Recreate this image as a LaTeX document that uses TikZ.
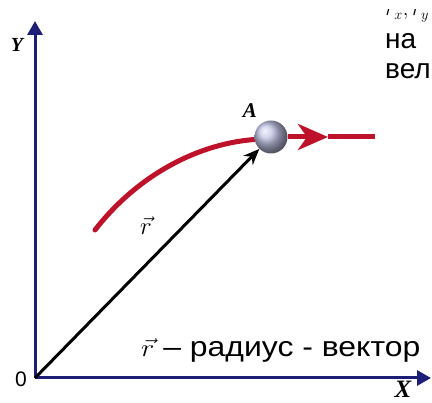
\documentclass[tikz,border=0pt]{standalone}
\usepackage{fontspec}
\setmainfont{Liberation Serif}
\setsansfont{Liberation Sans}
\usetikzlibrary{arrows.meta}
\definecolor{axiscol}{RGB}{28,30,120}
\definecolor{pathcol}{RGB}{190,18,42}
\definecolor{ballcol}{RGB}{192,195,228}

\begin{document}
\begin{tikzpicture}[x=1pt,y=-1pt,
	axis/.style={line width=3pt, color=axiscol, -{Triangle[length=14pt,width=15pt]}},
	pathline/.style={line width=5pt, color=pathcol},
	radvec/.style={line width=3pt, -{Stealth[length=16pt,width=13pt]}},
	axlabel/.style={font=\bfseries\itshape\fontsize{20}{20}\selectfont},
	sftext/.style={font=\sffamily\fontsize{28}{28}\selectfont, anchor=base west, inner sep=0pt}]
	% frame of the picture
	\useasboundingbox (0,0) rectangle (432,403);
	\clip (0,0) rectangle (432,403);
	% axes
	\coordinate (O) at (35,378);
	\coordinate (ytip) at (35,21);
	\coordinate (xtip) at (431,378);
	\draw[axis] (O) -- (ytip);
	\draw[axis] (O) -- (xtip);
	\node[axlabel] (ylab) at (17,45) {Y};
	\node[axlabel, font=\bfseries\itshape\fontsize{25}{25}\selectfont] (xlab) at (403,389) {X};
	\node[font=\sffamily\fontsize{21}{21}\selectfont] (zero) at (21,379) {0};
	% trajectory of the point
	\coordinate (trajstart) at (95,230);
	\coordinate (headpos) at (328,137);
	\coordinate (trajend) at (375,137);
	\draw[pathline, line cap=round] (trajstart) .. controls (140,172) and (205,140) .. (265,139);
	\node[circle, inner sep=0pt, minimum size=33pt, shading=ball, ball color=ballcol] (ball) at (271,137) {};
	\draw[pathline, -{Stealth[length=30pt,width=26pt,inset=9pt]}] (ball.east) -- (headpos);
	\draw[pathline] (headpos) -- (trajend);
	\node[axlabel, font=\bfseries\itshape\fontsize{21}{21}\selectfont] (alab) at (250,111) {A};
	% radius vector
	\draw[radvec] (O) -- (ball);
	\node[font=\fontsize{24}{24}\selectfont] (rlab) at (146,226) {$\vec r$};
	% texts
	\node[sftext] (caption) at (141,357) {\scalebox{1.14}[1]{$\vec r$ -- радиус - вектор}};
	\node[sftext] (line1) at (385,49) {на};
	\node[sftext] (line2) at (385,79) {вел};
	\begin{scope}
		\clip (370,10) rectangle (432,30);
		\node[sftext, font=\fontsize{22}{22}\selectfont] (line0) at (385,16) {$r_x, r_y$};
	\end{scope}
\end{tikzpicture}
\end{document}
